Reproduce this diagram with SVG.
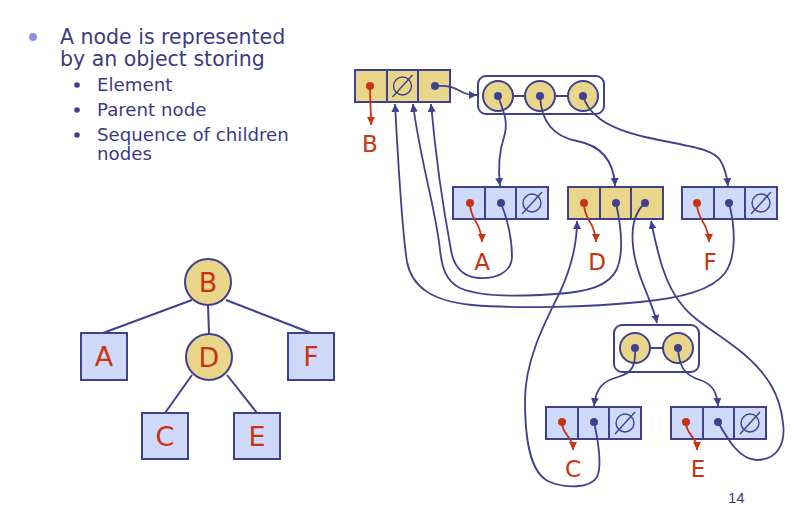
<svg xmlns="http://www.w3.org/2000/svg" width="805" height="510" viewBox="0 0 805 510">
<style>
.txt{font-family:"DejaVu Sans","Liberation Sans",sans-serif;fill:#3b3b85}
.lbl{font-family:"DejaVu Sans","Liberation Sans",sans-serif;fill:#c8340f;text-anchor:middle}
.cellY{fill:#ead68a;stroke:#3f418f;stroke-width:2}
.cellB{fill:#cfd9fa;stroke:#3f418f;stroke-width:2}
.sep{stroke:#3f418f;stroke-width:2}
.dot{fill:#3f418f}
.rdot{fill:#c8340f}
.nul{fill:none;stroke:#3f418f;stroke-width:1.4}
.box{fill:none;stroke:#3f418f;stroke-width:2}
.circ{fill:#ead68a;stroke:#3f418f;stroke-width:2}
.con{fill:none;stroke:#3f418f;stroke-width:1.8}
.rcon{fill:none;stroke:#c8340f;stroke-width:1.8}
.edge{stroke:#3f418f;stroke-width:2}
</style>
<defs>
<marker id="ah" markerUnits="userSpaceOnUse" markerWidth="9" markerHeight="8" refX="8" refY="4" orient="auto"><path d="M0,0 L8,4 L0,8 z" fill="#3f418f"/></marker>
<marker id="rah" markerUnits="userSpaceOnUse" markerWidth="9" markerHeight="8" refX="8" refY="4" orient="auto"><path d="M0,0 L8,4 L0,8 z" fill="#c8340f"/></marker>
<g id="nullsym"><circle cx="0" cy="0" r="9" class="nul"/><line x1="-10" y1="11" x2="10" y2="-11" class="nul"/></g>
</defs>

<!-- text -->
<g id="bullets">
<circle cx="33" cy="37" r="4" fill="#8a90e8"/>
<text class="txt" x="60" y="44" font-size="20.5">A node is represented</text>
<text class="txt" x="60" y="66" font-size="20.5">by an object storing</text>
<circle cx="77" cy="85" r="2.8" class="dot"/>
<circle cx="77" cy="110" r="2.8" class="dot"/>
<circle cx="77" cy="135" r="2.8" class="dot"/>
<text class="txt" x="97" y="91" font-size="18.2">Element</text>
<text class="txt" x="97" y="116" font-size="18.2">Parent node</text>
<text class="txt" x="97" y="141" font-size="18.2">Sequence of children</text>
<text class="txt" x="97" y="160" font-size="18.2">nodes</text>
</g>
<text id="pagenum" x="728" y="503" font-family="Liberation Sans, sans-serif" font-size="15" fill="#3b3b85">14</text>

<!-- tree -->
<g id="tree-edges">
<line x1="192" y1="300" x2="103" y2="333" class="edge"/>
<line x1="208" y1="305" x2="209" y2="334" class="edge"/>
<line x1="226" y1="300" x2="311" y2="333" class="edge"/>
<line x1="192" y1="375" x2="165" y2="413" class="edge"/>
<line x1="227" y1="375" x2="257" y2="413" class="edge"/>
</g>
<g id="treeB"><circle cx="208" cy="282" r="23" class="circ"/><text class="lbl" x="208" y="292" font-size="27">B</text></g>
<g id="treeA"><rect x="81" y="333" width="46" height="47" class="cellB"/><text class="lbl" x="104" y="366" font-size="27">A</text></g>
<g id="treeD"><circle cx="209" cy="357" r="23" class="circ"/><text class="lbl" x="209" y="367" font-size="27">D</text></g>
<g id="treeF"><rect x="288" y="333" width="46" height="47" class="cellB"/><text class="lbl" x="311" y="366" font-size="27">F</text></g>
<g id="treeC"><rect x="142" y="413" width="46" height="46" class="cellB"/><text class="lbl" x="165" y="446" font-size="27">C</text></g>
<g id="treeE"><rect x="234" y="413" width="46" height="46" class="cellB"/><text class="lbl" x="257" y="446" font-size="27">E</text></g>

<!-- linked structure nodes -->
<g id="recB">
<rect x="355" y="70" width="95" height="32" class="cellY"/>
<line x1="387" y1="70" x2="387" y2="102" class="sep"/><line x1="418" y1="70" x2="418" y2="102" class="sep"/>
<circle cx="370" cy="86" r="4" class="rdot"/>
<use href="#nullsym" x="402.5" y="86"/>
<circle cx="435" cy="86" r="4" class="dot"/>
<text class="lbl" x="370" y="152" font-size="23">B</text>
</g>
<g id="seq1">
<rect x="478" y="76" width="126" height="38" rx="8" class="box"/>
<line x1="513" y1="96" x2="525" y2="96" class="sep"/><line x1="555" y1="96" x2="568" y2="96" class="sep"/>
<circle cx="498" cy="96" r="15" class="circ"/><circle cx="540" cy="96" r="15" class="circ"/><circle cx="583" cy="96" r="15" class="circ"/>
<circle cx="498" cy="96" r="4" class="dot"/><circle cx="540" cy="96" r="4" class="dot"/><circle cx="583" cy="96" r="4" class="dot"/>
</g>
<g id="recA">
<rect x="453" y="187" width="95" height="32" class="cellB"/>
<line x1="485" y1="187" x2="485" y2="219" class="sep"/><line x1="516" y1="187" x2="516" y2="219" class="sep"/>
<circle cx="470" cy="203" r="4" class="rdot"/>
<circle cx="501" cy="203" r="4" class="dot"/>
<use href="#nullsym" x="532" y="203"/>
<text class="lbl" x="482" y="270" font-size="23">A</text>
</g>
<g id="recD">
<rect x="568" y="187" width="95" height="32" class="cellY"/>
<line x1="600" y1="187" x2="600" y2="219" class="sep"/><line x1="631" y1="187" x2="631" y2="219" class="sep"/>
<circle cx="584" cy="203" r="4" class="rdot"/>
<circle cx="616" cy="203" r="4" class="dot"/>
<circle cx="645" cy="203" r="4" class="dot"/>
<text class="lbl" x="597" y="270" font-size="23">D</text>
</g>
<g id="recF">
<rect x="682" y="187" width="95" height="32" class="cellB"/>
<line x1="714" y1="187" x2="714" y2="219" class="sep"/><line x1="745" y1="187" x2="745" y2="219" class="sep"/>
<circle cx="697" cy="203" r="4" class="rdot"/>
<circle cx="729" cy="203" r="4" class="dot"/>
<use href="#nullsym" x="761" y="203"/>
<text class="lbl" x="710" y="270" font-size="23">F</text>
</g>
<g id="seq2">
<rect x="614" y="325" width="85" height="47" rx="8" class="box"/>
<line x1="650" y1="348" x2="663" y2="348" class="sep"/>
<circle cx="635" cy="348" r="15" class="circ"/><circle cx="678" cy="348" r="15" class="circ"/>
<circle cx="635" cy="348" r="4" class="dot"/><circle cx="678" cy="348" r="4" class="dot"/>
</g>
<g id="recC">
<rect x="546" y="407" width="95" height="32" class="cellB"/>
<line x1="578" y1="407" x2="578" y2="439" class="sep"/><line x1="609" y1="407" x2="609" y2="439" class="sep"/>
<circle cx="562" cy="422" r="4" class="rdot"/>
<circle cx="594" cy="422" r="4" class="dot"/>
<use href="#nullsym" x="625" y="423"/>
<text class="lbl" x="573" y="477" font-size="23">C</text>
</g>
<g id="recE">
<rect x="671" y="407" width="95" height="32" class="cellB"/>
<line x1="703" y1="407" x2="703" y2="439" class="sep"/><line x1="734" y1="407" x2="734" y2="439" class="sep"/>
<circle cx="686" cy="422" r="4" class="rdot"/>
<circle cx="718" cy="422" r="4" class="dot"/>
<use href="#nullsym" x="750" y="423"/>
<text class="lbl" x="698" y="477" font-size="23">E</text>
</g>

<!-- connectors -->
<g id="connectors">
<path class="rcon" marker-end="url(#rah)" d="M370,86 C370,100 371,110 371,125"/>
<path class="rcon" marker-end="url(#rah)" d="M470,203 C470,216 476,220 479,228 C481,233 482,236 482,242"/>
<path class="rcon" marker-end="url(#rah)" d="M584,203 C584,216 590,220 593,228 C595,233 596,236 596,242"/>
<path class="rcon" marker-end="url(#rah)" d="M697,203 C697,216 703,220 706,228 C708,233 709,236 709,242"/>
<path class="rcon" marker-end="url(#rah)" d="M562,422 C562,432 568,435 571,441 C573,444 573,447 573,450"/>
<path class="rcon" marker-end="url(#rah)" d="M686,422 C686,432 692,435 695,441 C697,444 697,447 697,450"/>

<path class="con" marker-end="url(#ah)" d="M435,86 C450,85 455,88 462,92 C467,95 471,95 477,95"/>
<path class="con" marker-end="url(#ah)" d="M498,96 C503,110 509,122 504,137 C499,152 498,168 500,186"/>
<path class="con" marker-end="url(#ah)" d="M540,96 C541,118 550,136 577,141 C603,146 614,162 615,186"/>
<path class="con" marker-end="url(#ah)" d="M583,96 C588,112 602,127 645,137 C690,147 712,148 720,160 C725,168 727,176 728,186"/>
<path class="con" marker-end="url(#ah)" d="M645,203 C636,211 631,226 633,246 C636,276 652,300 657,323"/>
<path class="con" marker-end="url(#ah)" d="M635,348 C636,366 632,373 618,377 C603,381 596,388 594,406"/>
<path class="con" marker-end="url(#ah)" d="M678,348 C679,366 684,375 700,380 C713,384 717,393 718,406"/>

<path class="con" marker-end="url(#ah)" d="M501,203 C506,216 512,236 512,256 C512,273 495,279 479,278 C464,277 454,268 451,250 C445,218 436,160 431,104"/>
<path class="con" marker-end="url(#ah)" d="M616,203 C621,226 624,252 617,269 C609,286 588,292 555,294 C515,297 478,296 460,288 C446,281 442,268 440,250 C436,210 420,160 413,104"/>
<path class="con" marker-end="url(#ah)" d="M729,203 C735,226 737,256 725,273 C712,290 682,298 640,302 C590,307 520,309 472,305 C432,301 412,287 407,262 C402,230 398,160 395,104"/>
<path class="con" marker-end="url(#ah)" d="M594,422 C598,440 602,466 597,477 C590,489 565,488 550,482 C530,474 525,440 525,400 C525,360 545,322 560,292 C572,266 577,244 577,221"/>
<path class="con" marker-end="url(#ah)" d="M718,422 C728,440 740,460 757,460 C776,460 786,445 783,423 C780,395 768,375 745,355 C720,334 695,322 682,305 C665,285 658,255 651,221"/>
</g>
</svg>
